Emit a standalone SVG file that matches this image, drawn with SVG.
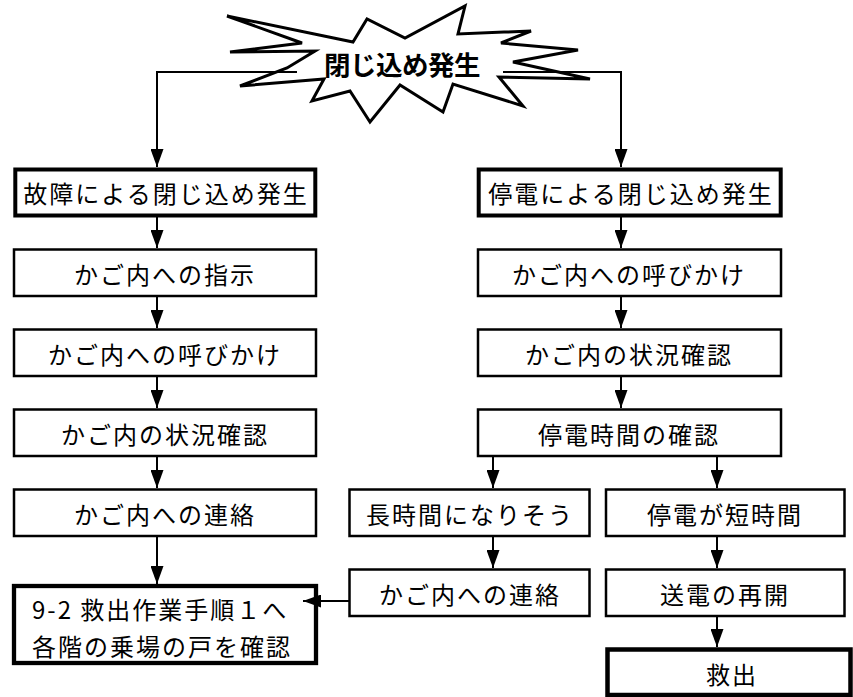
<svg xmlns="http://www.w3.org/2000/svg" width="853" height="697" viewBox="0 0 853 697">
<style>
.box{fill:#fff;stroke:#000;stroke-width:2.5}
.thick{fill:#fff;stroke:#000;stroke-width:4.3}
.t{font-family:"Noto Sans CJK JP","Noto Sans",sans-serif;font-size:24px;letter-spacing:2px;fill:#000;text-anchor:middle}
.ts{font-family:"Noto Sans CJK JP","Noto Sans",sans-serif;font-size:24px;letter-spacing:2px;fill:#000}
.star{fill:#fff;stroke:#000;stroke-width:3;stroke-linejoin:miter}
.st{font-family:"Noto Sans CJK JP","Noto Sans",sans-serif;font-size:26.5px;font-weight:bold;letter-spacing:-0.5px;fill:#000;text-anchor:middle}
.c{fill:none;stroke:#000;stroke-width:2;marker-end:url(#ah)}
</style>
<defs>
<marker id="ah" markerUnits="userSpaceOnUse" markerWidth="18" markerHeight="13" refX="18" refY="6.5" orient="auto">
<path d="M0,0 L18,6.5 L0,13 z" fill="#000"/>
</marker>
</defs>
<g id="start">
<polygon class="star" points="227,16 353,42 367,19 405,38 465,6 458,34 531,31 501,43 578,50 513,62 590,79 499,77 523,106 453,84 443,112 400,85 370,122 350,91 312,101 324,79 240,86 287,68 315,51 230,52 302,43"/>
<text class="st" x="402" y="75">閉じ込め発生</text>
</g>
<g id="n-fault">
<rect class="thick" x="15.3" y="169.5" width="300" height="46" style="stroke-width:4"/>
<text class="t" x="166" y="203">故障による閉じ込め発生</text>
</g>
<g id="n-l1">
<rect class="box" x="14" y="249.5" width="302" height="46.5"/>
<text class="t" x="165" y="284">かご内への指示</text>
</g>
<g id="n-l2">
<rect class="box" x="14" y="329.5" width="302" height="46.5"/>
<text class="t" x="165" y="364">かご内への呼びかけ</text>
</g>
<g id="n-l3">
<rect class="box" x="14" y="409.5" width="302" height="46.5"/>
<text class="t" x="165" y="444">かご内の状況確認</text>
</g>
<g id="n-l4">
<rect class="box" x="14" y="489.5" width="302" height="46.5"/>
<text class="t" x="165" y="524">かご内への連絡</text>
</g>
<g id="n-rescue1">
<rect class="thick" x="14" y="586" width="302" height="77"/>
<text class="ts" x="32" y="619">9-2 救出作業手順１へ</text>
<text class="ts" x="32" y="656">各階の乗場の戸を確認</text>
</g>
<g id="n-outage">
<rect class="thick" x="478.7" y="169.5" width="302" height="46" style="stroke-width:4"/>
<text class="t" x="631" y="203">停電による閉じ込め発生</text>
</g>
<g id="n-r1">
<rect class="box" x="478" y="249.5" width="303" height="46.5"/>
<text class="t" x="629" y="284">かご内への呼びかけ</text>
</g>
<g id="n-r2">
<rect class="box" x="478" y="329.5" width="303" height="46.5"/>
<text class="t" x="629" y="364">かご内の状況確認</text>
</g>
<g id="n-r3">
<rect class="box" x="478" y="409.5" width="303" height="46.5"/>
<text class="t" x="629" y="444">停電時間の確認</text>
</g>
<g id="n-long">
<rect class="box" x="349.5" y="489.5" width="240" height="46.5"/>
<text class="t" x="470" y="524">長時間になりそう</text>
</g>
<g id="n-short">
<rect class="box" x="606" y="489.5" width="238.5" height="46.5"/>
<text class="t" x="725" y="524">停電が短時間</text>
</g>
<g id="n-contact">
<rect class="box" x="349.5" y="569.5" width="240" height="46.5"/>
<text class="t" x="470" y="604">かご内への連絡</text>
</g>
<g id="n-power">
<rect class="box" x="606" y="569.5" width="238.5" height="46.5"/>
<text class="t" x="725" y="604">送電の再開</text>
</g>
<g id="n-rescue2">
<rect class="thick" x="607.5" y="649.5" width="243" height="45.5" style="stroke-width:4.5"/>
<text class="t" x="732" y="684">救出</text>
</g>
<g id="connectors">
<path class="c" d="M297,72 H157 V167"/>
<path class="c" d="M503,72 H621 V167"/>
<path class="c" d="M157,217 V248"/>
<path class="c" d="M157,297 V328"/>
<path class="c" d="M157,377 V408"/>
<path class="c" d="M157,457 V488"/>
<path class="c" d="M157,537 V584"/>
<path class="c" d="M621,217 V248"/>
<path class="c" d="M621,297 V328"/>
<path class="c" d="M621,377 V408"/>
<path class="c" d="M493,457 V488"/>
<path class="c" d="M717,457 V488"/>
<path class="c" d="M493,537 V568"/>
<path class="c" d="M717,537 V568"/>
<path class="c" d="M717,617 V647"/>
<path class="c" d="M349,601 H303"/>
</g>
</svg>
